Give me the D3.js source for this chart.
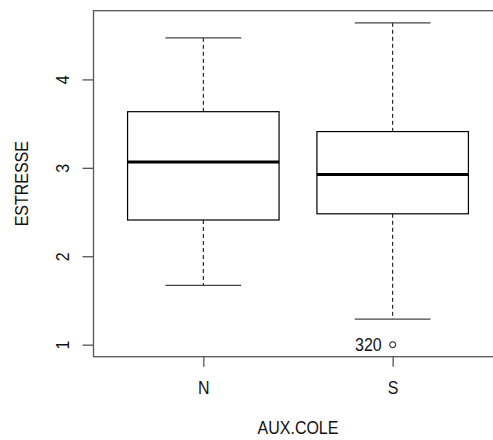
<!DOCTYPE html>
<meta charset="utf-8">
<style>
body { margin: 0; background: #fff; }
svg { font-family: Arial, "Liberation Sans", sans-serif; }
.frame { fill: none; stroke: #555; stroke-width: 1.3px; }
.axis path { display: none; }
.axis line { stroke: #555; stroke-width: 1.3px; }
.box { fill: #fff; stroke: #000; stroke-width: 1.2px; }
.median { stroke: #000; stroke-width: 3px; }
.whisker { stroke: #000; stroke-width: 1px; stroke-dasharray: 4,3; }
.staple { stroke: #444; stroke-width: 1.3px; }
.outlier { fill: none; stroke: #000; stroke-width: 1px; }
.title { font-size: 16px; fill: #111; }
</style>
<svg width="493" height="440"></svg>
<script src="https://cdn.jsdelivr.net/npm/d3@7"></script>
<script>

// values
var categories = ["N", "S"];
var whiskerLow  = [1.67, 1.29];
var q1          = [2.41, 2.48];
var medians     = [3.065, 2.925];
var q3          = [3.635, 3.41];
var whiskerHigh = [4.47, 4.64];
var outlierGroup = ["S"];
var outlierValue = [1.0];
var outlierLabel = ["320"];
var yTicks = [1, 2, 3, 4];

var svg = d3.select("svg");

var plotLeft = 93.5, plotRight = 502.5, plotTop = 10.7, plotBottom = 356.7;
var stretch = " scale(1,1.12)";   // glyphs in the reference are a bit taller

var x = d3.scaleLinear().domain([0.42, 2.58]).range([plotLeft, plotRight]);
var y = d3.scaleLinear().domain([0.864, 4.777]).range([plotBottom, plotTop]);

var boxwex = 0.8;

svg.append("rect")
    .attr("class", "frame")
    .attr("x", plotLeft).attr("y", plotTop)
    .attr("width", plotRight - plotLeft).attr("height", plotBottom - plotTop);

var groups = categories.map(function(c, i) {
  return {name: c, pos: i + 1, lo: whiskerLow[i], q1: q1[i], med: medians[i], q3: q3[i], hi: whiskerHigh[i]};
});

var g = svg.selectAll(".grp").data(groups).enter().append("g");

// whiskers
g.append("line").attr("class", "whisker")
    .attr("x1", d => x(d.pos)).attr("x2", d => x(d.pos))
    .attr("y1", d => y(d.hi)).attr("y2", d => y(d.q3));
g.append("line").attr("class", "whisker")
    .attr("x1", d => x(d.pos)).attr("x2", d => x(d.pos))
    .attr("y1", d => y(d.q1)).attr("y2", d => y(d.lo));

// staples
g.append("line").attr("class", "staple")
    .attr("x1", d => x(d.pos - boxwex / 4)).attr("x2", d => x(d.pos + boxwex / 4))
    .attr("y1", d => y(d.hi)).attr("y2", d => y(d.hi));
g.append("line").attr("class", "staple")
    .attr("x1", d => x(d.pos - boxwex / 4)).attr("x2", d => x(d.pos + boxwex / 4))
    .attr("y1", d => y(d.lo)).attr("y2", d => y(d.lo));

// boxes
g.append("rect").attr("class", "box")
    .attr("x", d => x(d.pos - boxwex / 2))
    .attr("width", d => x(d.pos + boxwex / 2) - x(d.pos - boxwex / 2))
    .attr("y", d => y(d.q3))
    .attr("height", d => y(d.q1) - y(d.q3));

g.append("line").attr("class", "median")
    .attr("x1", d => x(d.pos - boxwex / 2)).attr("x2", d => x(d.pos + boxwex / 2))
    .attr("y1", d => y(d.med)).attr("y2", d => y(d.med));

// outliers
outlierValue.forEach(function(v, i) {
  var p = categories.indexOf(outlierGroup[i]) + 1;
  svg.append("circle").attr("class", "outlier")
      .attr("cx", x(p)).attr("cy", y(v)).attr("r", 3);
  svg.append("text")
      .attr("transform", "translate(" + (x(p) - 11) + "," + y(v) + ")" + stretch)
      .attr("dy", "0.35em")
      .attr("text-anchor", "end")
      .style("font-size", "16px")
      .style("fill", "#111")
      .text(outlierLabel[i]);
});

// axes
var yAxis = svg.append("g").attr("class", "axis")
    .attr("transform", "translate(" + plotLeft + ",0)")
    .call(d3.axisLeft(y).tickValues(yTicks).tickSize(11).tickPadding(0).tickFormat(d3.format("d")));
yAxis.selectAll(".tick text")
    .attr("x", 0).attr("y", 0).attr("dy", "0.35em")
    .attr("text-anchor", "middle")
    .style("font-size", "16px").style("font-family", "Arial, 'Liberation Sans', sans-serif")
    .style("fill", "#111")
    .attr("transform", "translate(-31,0) rotate(-90)" + stretch);

var xAxis = svg.append("g").attr("class", "axis")
    .attr("transform", "translate(0," + plotBottom + ")")
    .call(d3.axisBottom(x).tickValues([1, 2]).tickSize(10).tickPadding(0)
      .tickFormat(function(d) { return categories[d - 1]; }));
xAxis.selectAll(".tick text")
    .attr("y", 0).attr("dy", "0.35em")
    .style("font-size", "16px").style("font-family", "Arial, 'Liberation Sans', sans-serif")
    .style("fill", "#111")
    .attr("transform", "translate(0,31)" + stretch);

// titles
svg.append("text").attr("class", "title")
    .attr("transform", "translate(" + (plotLeft + plotRight) / 2 + ",428)" + stretch)
    .attr("dy", "0.35em").attr("text-anchor", "middle")
    .text("AUX.COLE");

svg.append("text").attr("class", "title")
    .attr("transform", "translate(22," + (plotTop + plotBottom) / 2 + ") rotate(-90)" + stretch)
    .attr("dy", "0.35em").attr("text-anchor", "middle")
    .text("ESTRESSE");

</script>
